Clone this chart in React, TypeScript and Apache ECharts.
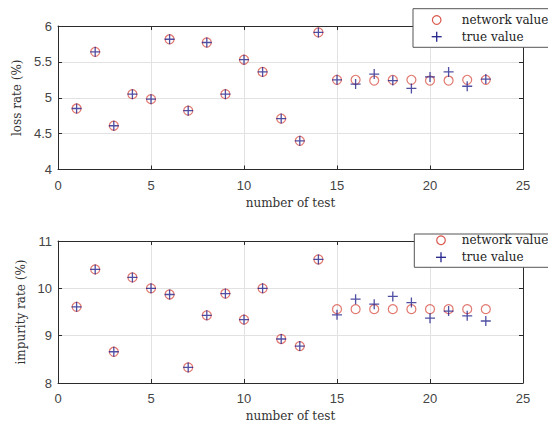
import React, { useEffect, useRef } from "react";
import * as echarts from "echarts";

// ---- data ----
const testNumbers = [1, 2, 3, 4, 5, 6, 7, 8, 9, 10, 11, 12, 13, 14, 15, 16, 17, 18, 19, 20, 21, 22, 23];

const lossNetwork = [4.85, 5.64, 4.61, 5.05, 4.98, 5.815, 4.82, 5.77, 5.05, 5.53, 5.36, 4.71, 4.4, 5.91,
  5.25, 5.25, 5.24, 5.25, 5.25, 5.24, 5.24, 5.25, 5.25];
const lossTrue = [4.85, 5.64, 4.61, 5.05, 4.98, 5.815, 4.82, 5.77, 5.05, 5.53, 5.36, 4.71, 4.4, 5.91,
  5.25, 5.19, 5.33, 5.24, 5.13, 5.29, 5.36, 5.16, 5.26];

const impurityNetwork = [9.61, 10.4, 8.66, 10.23, 10.0, 9.87, 8.33, 9.43, 9.89, 9.34, 10.0, 8.93, 8.78, 10.61,
  9.56, 9.56, 9.56, 9.56, 9.56, 9.56, 9.56, 9.56, 9.56];
const impurityTrue = [9.61, 10.4, 8.66, 10.23, 10.0, 9.87, 8.33, 9.43, 9.89, 9.34, 10.0, 8.93, 8.78, 10.61,
  9.44, 9.77, 9.665, 9.83, 9.7, 9.37, 9.52, 9.42, 9.31];

const xRange = { min: 0, max: 25, interval: 5 };
const lossRange = { min: 4, max: 6, interval: 0.5 };
const impurityRange = { min: 8, max: 11, interval: 1 };

const xName = "number of test";
const lossName = "loss rate (%)";
const impurityName = "impurity rate (%)";
const seriesNames = ["network value", "true value"];

// ---- styles ----
const RED = "#d9574c";
const BLUE = "#23238c";
const AXIS = "#2b2b2b";
const GRID = "#e2e2e2";
const SERIF = "DejaVu Serif";
const SANS = "Liberation Sans, Arial, sans-serif";
const PLUS = "path://M5,0L5,10M0,5L10,5";

const pairs = (xs: number[], ys: number[]) => xs.map((x, i) => [x, ys[i]]);

function makeX(gridIndex: number, main: boolean) {
  return {
    type: "value",
    gridIndex,
    ...xRange,
    position: main ? "bottom" : "top",
    axisLine: { show: true, onZero: false, lineStyle: { color: AXIS, width: 1 } },
    axisTick: { show: true, inside: true, length: 4, lineStyle: { color: AXIS } },
    axisLabel: main
      ? { show: true, margin: 9, fontFamily: SANS, fontSize: 13, color: "#444" }
      : { show: false },
    splitLine: { show: main, lineStyle: { color: GRID, width: 1 } },
    name: main ? xName : "",
    nameLocation: "middle",
    nameGap: 27,
    nameTextStyle: { fontFamily: SERIF, fontSize: 12, color: "#333" },
  };
}

function makeY(gridIndex: number, main: boolean, range: any, name: string) {
  return {
    type: "value",
    gridIndex,
    ...range,
    position: main ? "left" : "right",
    axisLine: { show: true, onZero: false, lineStyle: { color: AXIS, width: 1 } },
    axisTick: { show: true, inside: true, length: 4, lineStyle: { color: AXIS } },
    axisLabel: main
      ? { show: true, margin: 6, fontFamily: SANS, fontSize: 13, color: "#444" }
      : { show: false },
    splitLine: { show: main, lineStyle: { color: GRID, width: 1 } },
    name: main ? name : "",
    nameLocation: "middle",
    nameGap: 30,
    nameTextStyle: { fontFamily: SERIF, fontSize: 12, color: "#333" },
  };
}

function circleSeries(name: string, data: number[][], xi: number, yi: number) {
  return {
    type: "scatter",
    name,
    xAxisIndex: xi,
    yAxisIndex: yi,
    data,
    symbol: "circle",
    symbolSize: 9,
    itemStyle: { color: "none", borderColor: RED, borderWidth: 1.2 },
    emphasis: { disabled: true },
    z: 2,
  };
}

function plusSeries(name: string, data: number[][], xi: number, yi: number) {
  return {
    type: "scatter",
    name,
    xAxisIndex: xi,
    yAxisIndex: yi,
    data,
    symbol: PLUS,
    symbolSize: 10,
    itemStyle: { color: "none", borderColor: BLUE, borderWidth: 1.3 },
    emphasis: { disabled: true },
    z: 3,
  };
}

// legend drawn as graphic so it may run past the right edge, as in the reference
function legendGraphic(box: { x: number; y: number; h: number }, cx: number, cy1: number, cy2: number, textX: number) {
  return {
    type: "group",
    z: 6,
    children: [
      {
        type: "rect",
        z: 6,
        shape: { x: box.x, y: box.y, width: 200, height: box.h },
        style: { fill: "#fff", stroke: "#555", lineWidth: 1 },
      },
      {
        type: "circle",
        z: 7,
        shape: { cx, cy: cy1, r: 4.3 },
        style: { fill: "none", stroke: RED, lineWidth: 1.2 },
      },
      {
        type: "line",
        z: 7,
        shape: { x1: cx - 5, y1: cy2, x2: cx + 5, y2: cy2 },
        style: { stroke: BLUE, lineWidth: 1.3 },
      },
      {
        type: "line",
        z: 7,
        shape: { x1: cx, y1: cy2 - 5, x2: cx, y2: cy2 + 5 },
        style: { stroke: BLUE, lineWidth: 1.3 },
      },
      {
        type: "text",
        z: 7,
        x: textX,
        y: cy1,
        style: { text: seriesNames[0], fontFamily: SERIF, fontSize: 12, fill: "#222", verticalAlign: "middle", align: "left" },
      },
      {
        type: "text",
        z: 7,
        x: textX,
        y: cy2,
        style: { text: seriesNames[1], fontFamily: SERIF, fontSize: 12, fill: "#222", verticalAlign: "middle", align: "left" },
      },
    ],
  };
}

export default function App() {
  const ref = useRef<HTMLDivElement>(null);
  useEffect(() => {
    if (!ref.current) return;
    const chart = echarts.init(ref.current, null, { renderer: "svg" });
    chart.setOption({
      animation: false,
      backgroundColor: "#fff",
      grid: [
        { left: 58, top: 26, width: 465, height: 143.5, show: false },
        { left: 58, top: 241, width: 465, height: 143.5, show: false },
      ],
      xAxis: [makeX(0, true), makeX(0, false), makeX(1, true), makeX(1, false)],
      yAxis: [
        makeY(0, true, lossRange, lossName),
        makeY(0, false, lossRange, ""),
        makeY(1, true, impurityRange, impurityName),
        makeY(1, false, impurityRange, ""),
      ],
      graphic: [
        legendGraphic({ x: 413, y: 8.7, h: 38.6 }, 436.7, 20, 36.7, 461.7),
        legendGraphic({ x: 414.3, y: 234, h: 33.3 }, 441, 240.3, 257.3, 461.7),
      ],
      series: [
        circleSeries(seriesNames[0], pairs(testNumbers, lossNetwork), 0, 0),
        plusSeries(seriesNames[1], pairs(testNumbers, lossTrue), 0, 0),
        circleSeries(seriesNames[0], pairs(testNumbers, impurityNetwork), 2, 2),
        plusSeries(seriesNames[1], pairs(testNumbers, impurityTrue), 2, 2),
      ],
    });
    return () => chart.dispose();
  }, []);
  return (
    <div
      ref={ref}
      style={{ position: "absolute", left: 0, top: 0, width: 548, height: 423 }}
    />
  );
}
